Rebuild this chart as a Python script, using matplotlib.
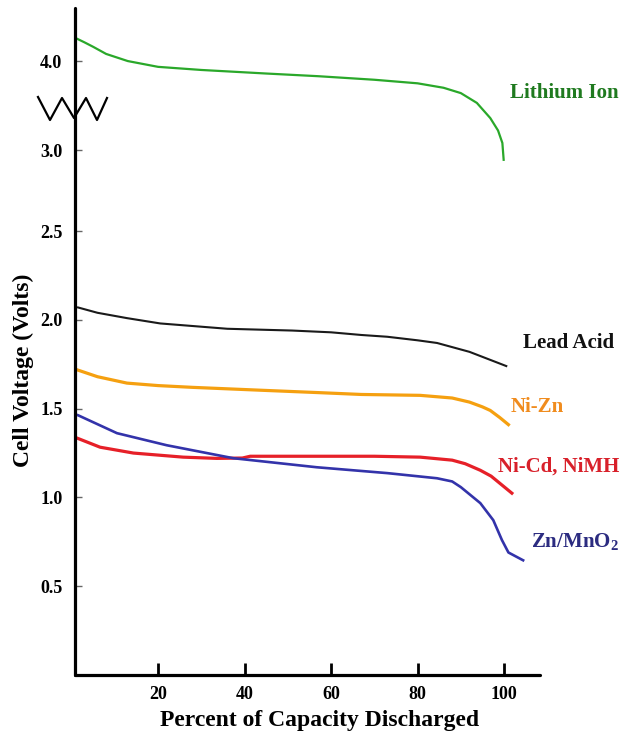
import matplotlib
matplotlib.use("Agg")
import matplotlib.pyplot as plt
import numpy as np

plt.rcParams["font.family"] = ["Liberation Serif", "DejaVu Serif"]
plt.rcParams["font.weight"] = "bold"
plt.rcParams["axes.labelweight"] = "bold"

# Discharge curves (x = % discharged, y = volts)
li_x = [1.3, 3, 5, 8, 13, 20, 30, 45, 57, 70, 80, 86, 90, 93.7, 96.8, 98.6, 99.6, 99.9]
li_v = [4.25, 4.21, 4.16, 4.08, 4.0, 3.935, 3.90, 3.86, 3.83, 3.79, 3.75, 3.70, 3.64, 3.53, 3.36, 3.22, 3.08, 2.94]

pb_x = [1.5, 6, 12.8, 20.5, 36, 51, 60, 67, 73, 80, 84.5, 92, 100.5]
pb_v = [2.07, 2.04, 2.01, 1.98, 1.95, 1.94, 1.93, 1.915, 1.905, 1.885, 1.87, 1.82, 1.74]

nizn_x = [1.5, 6, 12.8, 20, 28, 43.6, 57.5, 67, 80.6, 88, 92, 95, 96.8, 99, 101]
nizn_v = [1.717, 1.68, 1.644, 1.63, 1.62, 1.604, 1.59, 1.58, 1.575, 1.56, 1.537, 1.51, 1.49, 1.45, 1.41]

nicd_x = [1.3, 6.6, 14.3, 25.8, 33.6, 39.5, 41.3, 57, 70, 80.6, 88, 91, 94.5, 97, 99, 101.8]
nicd_v = [1.334, 1.283, 1.25, 1.227, 1.22, 1.222, 1.232, 1.232, 1.232, 1.227, 1.21, 1.19, 1.153, 1.12, 1.08, 1.024]

zn_x = [1.5, 10.5, 22, 37.4, 56.7, 73, 84.5, 88, 90, 94.5, 97.5, 99.5, 101, 104.4]
zn_v = [1.463, 1.362, 1.294, 1.221, 1.17, 1.137, 1.108, 1.09, 1.058, 0.968, 0.872, 0.76, 0.69, 0.646]

y_ticks = [0.5, 1.0, 1.5, 2.0, 2.5, 3.0, 4.0]
x_ticks = [20, 40, 60, 80, 100]

# broken y axis: above 2.5 V the scale is compressed
knots_v = [-1.0, 2.5, 3.0, 6.0]
knots_d = [-1.0, 2.5, 2.5 + 81 / 177.5, 2.5 + 81 / 177.5 + 3 * 89 / 177.5]


def fwd(v):
    return np.interp(v, knots_v, knots_d)


def inv(d):
    return np.interp(d, knots_d, knots_v)


fig = plt.figure(figsize=(6.32, 7.38), dpi=100)
ax = fig.add_axes([75 / 632, 1 - 675 / 738, 465 / 632, 667 / 738])
ax.set_yscale("function", functions=(fwd, inv))

ax.plot(li_x, li_v, color="#2aa82a", lw=1.6)
ax.plot(pb_x, pb_v, color="#1a1a1a", lw=1.5)
ax.plot(nizn_x, nizn_v, color="#f5a010", lw=2.3)
ax.plot(nicd_x, nicd_v, color="#e62028", lw=2.3)
ax.plot(zn_x, zn_v, color="#3333aa", lw=1.9)

ax.set_xlim(0.8, 108.3)
ax.set_ylim(0, 4.596)

ax.set_xticks(x_ticks)
ax.set_yticks(y_ticks)
ax.set_yticklabels([f"{t:.1f}" for t in y_ticks])
ax.tick_params(axis="x", direction="in", length=9, width=2, color="black",
               labelsize=13, pad=8)
ax.tick_params(axis="y", direction="in", length=5, width=1, color="#666666",
               labelsize=13, pad=9)
ax.minorticks_off()

for s in ["top", "right"]:
    ax.spines[s].set_visible(False)
for s in ["left", "bottom"]:
    ax.spines[s].set_linewidth(2.3)
    ax.spines[s].set_capstyle("round")

ax.set_xlabel("Percent of Capacity Discharged", fontsize=17)
ax.set_ylabel("Cell Voltage (Volts)", fontsize=17)
ax.xaxis.set_label_coords(0.527, -0.052)
ax.yaxis.set_label_coords(-0.088, 0.457)

# break symbol on the y axis
zz_x = [(p - 75) / 465 for p in [38, 50, 62, 74, 86, 97, 107]]
zz_y = [(675 - p) / 667 for p in [97, 120, 98, 118, 98, 120, 98]]
ax.plot(zz_x, zz_y, color="black", lw=1.6, transform=ax.transAxes, clip_on=False)

# curve labels
lab = dict(fontsize=15, fontweight="bold", va="center", ha="left")
ax.text(101.4, 3.64, "Lithium Ion", color="#1f7a1f", **lab)
ax.text(104.4, 1.869, "Lead Acid", color="#111111", **lab)
ax.text(101.4, 1.508, "Ni-Zn", color="#f08c1e", **lab)
ax.text(98.6, 1.176, "Ni-Cd, NiMH", color="#d8202a", **lab)
ax.text(106.2, 0.75, r"Zn/MnO$_\mathregular{2}$", color="#2b2b80", clip_on=False, **lab)

fig.savefig("out.png", dpi=100)
